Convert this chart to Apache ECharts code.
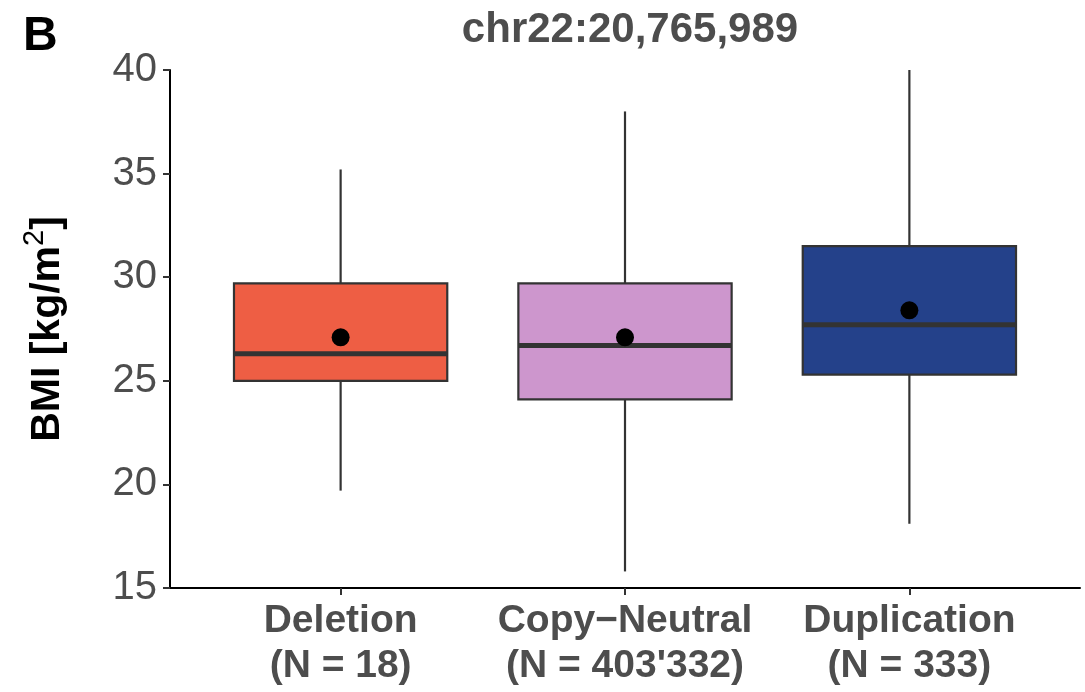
<!DOCTYPE html>
<html>
<head>
<meta charset="utf-8">
<script src="https://cdn.jsdelivr.net/npm/echarts@6/dist/echarts.min.js"></script>
<style>
html,body{margin:0;padding:0;background:#fff;}
#chart{width:1085px;height:692px;}
</style>
</head>
<body>
<div id="chart"></div>
<script>
// ---- data ----
const categories = ['Deletion', 'Copy\u2212Neutral', 'Duplication'];
const counts = ['18', "403'332", '333'];
const whiskerLow = [19.7, 15.8, 18.1];
const q1 = [25.0, 24.1, 25.3];
const median = [26.3, 26.7, 27.7];
const q3 = [29.7, 29.7, 31.5];
const whiskerHigh = [35.2, 38.0, 40.0];
const means = [27.1, 27.1, 28.4];
const fillColors = ['#EE5E44', '#CD96CD', '#24418A'];
const yTicks = [15, 20, 25, 30, 35, 40];

const boxData = categories.map((c, i) => [i, whiskerLow[i], q1[i], median[i], q3[i], whiskerHigh[i]]);
const meanData = categories.map((c, i) => [i, means[i]]);

const chart = echarts.init(document.getElementById('chart'), null, {renderer: 'canvas'});
const FONT = 'Liberation Sans, Arial, Helvetica, sans-serif';
const EDGE = '#333333';

chart.setOption({
  backgroundColor: '#ffffff',
  animation: false,
  title: [
    {text: 'B', left: 18, top: 8, textStyle: {fontFamily: FONT, fontSize: 48, fontWeight: 'bold', color: '#000'}},
    {text: 'chr22:20,765,989', left: 625, top: 4, textAlign: 'center',
     textStyle: {fontFamily: FONT, fontSize: 42, fontWeight: 'bold', color: '#4D4D4D'}}
  ],
  grid: {left: 170, right: 5, top: 70, bottom: 104, containLabel: false, outerBoundsMode: 'none'},
  xAxis: {
    type: 'value', min: -0.6, max: 2.6,
    splitLine: {show: false},
    axisLine: {show: true, onZero: false, lineStyle: {color: '#000', width: 2}},
    axisTick: {show: true, customValues: [0, 1, 2], length: 7, lineStyle: {color: EDGE, width: 2}},
    axisLabel: {
      show: true, customValues: [0, 1, 2], margin: 11,
      formatter: v => categories[Math.round(v)] + '\n(N = ' + counts[Math.round(v)] + ')',
      fontFamily: FONT, fontSize: 39, fontWeight: 'bold', color: '#4D4D4D', lineHeight: 45, align: 'center'
    }
  },
  yAxis: {
    type: 'value', min: 15, max: 40, interval: 5,
    splitLine: {show: false},
    axisLine: {show: true, onZero: false, lineStyle: {color: '#000', width: 2}},
    axisTick: {show: true, length: 7, lineStyle: {color: EDGE, width: 2}},
    axisLabel: {margin: 13, fontFamily: FONT, fontSize: 40, color: '#4D4D4D',
      formatter: v => yTicks.indexOf(v) >= 0 ? String(v) : ''},
    name: '{a|BMI [kg/m}{s|2}{a|]}',
    nameLocation: 'middle', nameRotate: 90, nameGap: 95,
    nameTextStyle: {
      rich: {
        a: {fontFamily: FONT, fontSize: 41, fontWeight: 'bold', color: '#000'},
        s: {fontFamily: FONT, fontSize: 29, color: '#000', padding: [0, 0, 26, 0]}
      }
    }
  },
  series: [
    {
      type: 'custom',
      data: boxData,
      encode: {x: 0, y: [1, 2, 3, 4, 5]},
      renderItem: function (params, api) {
        const x = api.value(0);
        const idx = params.dataIndex;
        const pLow = api.coord([x, api.value(1)]);
        const pQ1 = api.coord([x, api.value(2)]);
        const pMed = api.coord([x, api.value(3)]);
        const pQ3 = api.coord([x, api.value(4)]);
        const pHigh = api.coord([x, api.value(5)]);
        const bw = api.size([0.75, 0])[0];
        const cx = pQ1[0];
        return {
          type: 'group',
          children: [
            {type: 'line', shape: {x1: cx, y1: pLow[1], x2: cx, y2: pQ1[1]}, style: {stroke: EDGE, lineWidth: 2.2}},
            {type: 'line', shape: {x1: cx, y1: pQ3[1], x2: cx, y2: pHigh[1]}, style: {stroke: EDGE, lineWidth: 2.2}},
            {type: 'rect', shape: {x: cx - bw / 2, y: pQ3[1], width: bw, height: pQ1[1] - pQ3[1]},
             style: {fill: fillColors[idx], stroke: EDGE, lineWidth: 2.2}},
            {type: 'line', shape: {x1: cx - bw / 2, y1: pMed[1], x2: cx + bw / 2, y2: pMed[1]},
             style: {stroke: EDGE, lineWidth: 5}}
          ]
        };
      },
      z: 2
    },
    {
      type: 'scatter',
      data: meanData,
      symbol: 'circle',
      symbolSize: 18,
      itemStyle: {color: '#000', opacity: 1},
      z: 3
    }
  ]
});
</script>
</body>
</html>
